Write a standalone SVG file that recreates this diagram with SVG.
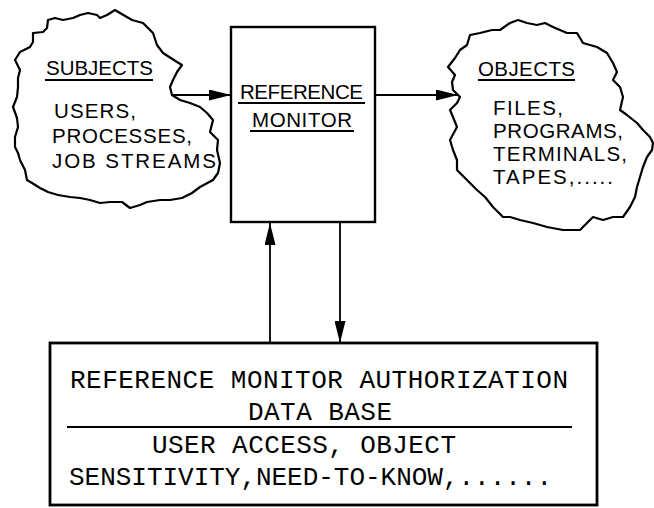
<svg xmlns="http://www.w3.org/2000/svg" width="654" height="508" viewBox="0 0 654 508">
<style>
.bg{fill:#fff}
.cloud{fill:#fff;stroke:#000;stroke-width:2.2;stroke-linejoin:round}
.box{fill:#fff;stroke:#000;stroke-width:2.4}
.ul{stroke:#000;stroke-width:1.8}
.lbl{font-family:"Liberation Sans","DejaVu Sans",sans-serif;font-size:20.5px;fill:#000}
.tw{font-family:"Liberation Mono","DejaVu Sans Mono",monospace;font-size:26px;fill:#000}
.conn{stroke:#000;stroke-width:1.8;fill:none}
</style>
<defs>
<marker id="ah" markerUnits="userSpaceOnUse" markerWidth="22" markerHeight="11" refX="22" refY="5.5" orient="auto">
<path d="M0,0 L22,5.5 L0,11 z" fill="#000"/>
</marker>
</defs>
<rect class="bg" x="0" y="0" width="654" height="508"/>
<g id="connectors">
<line class="conn" x1="172" y1="95" x2="231" y2="95" marker-end="url(#ah)"/>
<line class="conn" x1="375" y1="95" x2="458" y2="95" marker-end="url(#ah)"/>
<line class="conn" x1="270" y1="343" x2="270" y2="223" marker-end="url(#ah)"/>
<line class="conn" x1="340" y1="223" x2="340" y2="343" marker-end="url(#ah)"/>
</g>
<g id="subjects">
<path class="cloud" d="M115,10 L120,13 L132,20 L143,23 L153,33 L157,45 L163,53 L177,62 L182,65 L177,72 L173,80 L170,87 L172,95 L180,100 L190,103 L200,107 L207,113 L213,120 L210,132 L218,140 L217,150 L220,163 L218,173 L213,180 L200,187 L192,193 L182,198 L170,200 L160,200 L147,202 L140,205 L130,208 L122,202 L110,202 L100,203 L90,200 L80,198 L70,197 L58,195 L48,192 L40,188 L32,183 L27,180 L25,170 L20,160 L18,153 L15,147 L15,137 L18,127 L17,118 L13,107 L17,97 L18,87 L18,78 L20,70 L15,60 L20,52 L30,47 L33,42 L33,33 L43,32 L47,28 L48,20 L55,18 L63,20 L73,18 L80,15 L88,13 L97,15 L100,18 L107,15 Z"/>
<text class="lbl" x="46" y="75" textLength="107">SUBJECTS</text>
<line class="ul" x1="45" y1="80" x2="153" y2="80"/>
<text class="lbl" x="54" y="118" textLength="82">USERS,</text>
<text class="lbl" x="52" y="143" textLength="140">PROCESSES,</text>
<text class="lbl" x="52" y="168" textLength="164">JOB STREAMS</text>
</g>
<g id="monitor">
<rect class="box" x="231" y="27" width="144" height="195"/>
<text class="lbl" x="240" y="99" textLength="123">REFERENCE</text>
<line class="ul" x1="238" y1="103" x2="365" y2="103"/>
<text class="lbl" x="252" y="127" textLength="100">MONITOR</text>
<line class="ul" x1="250" y1="131" x2="354" y2="131"/>
</g>
<g id="objects">
<path class="cloud" d="M460,97 L453,90 L452,82 L455,75 L448,67 L455,58 L460,50 L467,45 L470,35 L480,33 L492,30 L500,30 L510,23 L518,20 L527,23 L537,25 L545,23 L553,27 L567,33 L577,33 L583,43 L597,47 L607,53 L613,63 L617,72 L613,80 L620,87 L623,97 L620,110 L627,115 L637,123 L643,130 L650,137 L653,143 L652,150 L647,157 L643,167 L640,177 L637,187 L635,197 L630,207 L623,217 L613,217 L603,220 L593,217 L587,223 L580,230 L563,230 L547,227 L533,223 L520,220 L510,217 L503,217 L493,207 L485,197 L477,190 L467,180 L457,170 L457,160 L453,150 L450,140 L457,127 L453,117 L450,110 L457,103 Z"/>
<text class="lbl" x="478" y="76" textLength="97">OBJECTS</text>
<line class="ul" x1="478" y1="80" x2="575" y2="80"/>
<text class="lbl" x="493" y="115" textLength="70">FILES,</text>
<text class="lbl" x="493" y="138" textLength="130">PROGRAMS,</text>
<text class="lbl" x="493" y="161" textLength="134">TERMINALS,</text>
<text class="lbl" x="493" y="184" textLength="120">TAPES,.....</text>
</g>
<g id="database">
<rect class="box" x="50" y="343" width="547" height="162" style="stroke-width:2.8"/>
<text class="tw" x="70" y="388" textLength="498">REFERENCE MONITOR AUTHORIZATION</text>
<text class="tw" x="248" y="420" textLength="144">DATA BASE</text>
<line class="ul" x1="67" y1="427" x2="572" y2="427"/>
<text class="tw" x="152" y="453" textLength="304">USER ACCESS, OBJECT</text>
<text class="tw" x="69" y="485" textLength="483">SENSITIVITY,NEED-TO-KNOW,......</text>
</g>
</svg>
